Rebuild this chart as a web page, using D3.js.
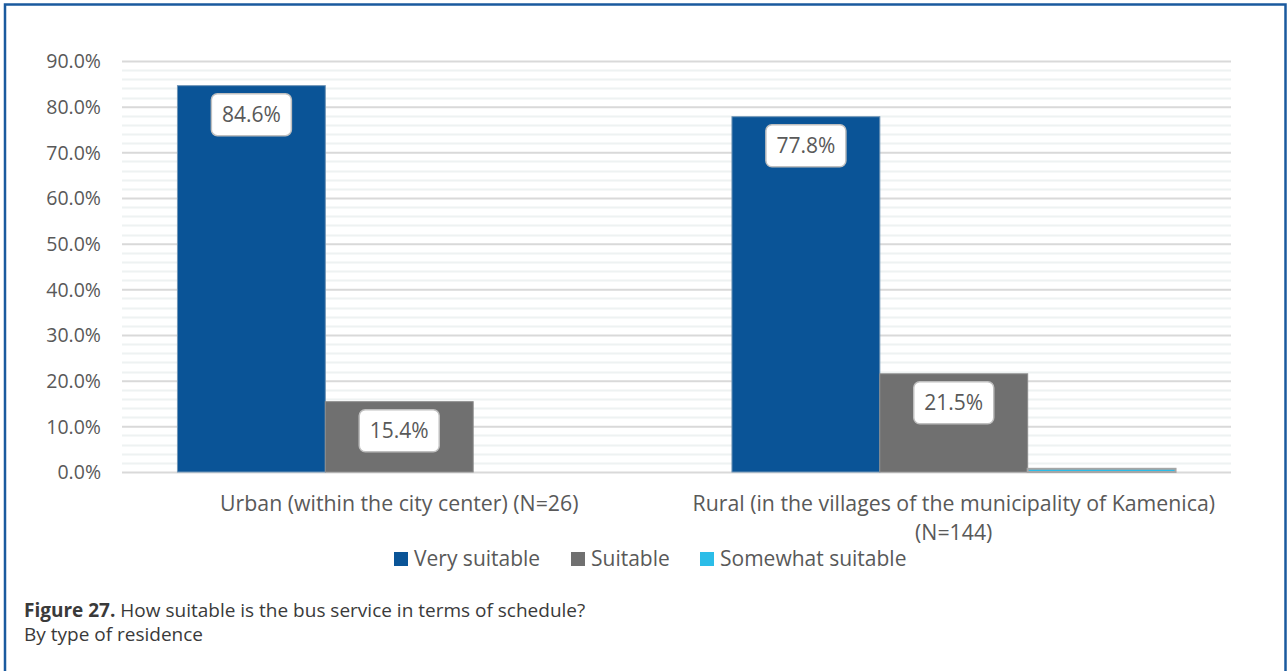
<!DOCTYPE html>
<html>
<head>
<meta charset="utf-8">
<script src="https://cdn.jsdelivr.net/npm/d3@7"></script>
<style>
  html, body { margin: 0; padding: 0; background: #fff; }
  svg { display: block; font-family: "Open Sans", "Noto Sans", sans-serif; }
</style>
</head>
<body>
<svg id="chart" width="1288" height="671"></svg>
<script>
// Share of respondents by residence type and rating of the bus schedule
const categories = [
  ["Urban (within the city center) (N=26)"],
  ["Rural (in the villages of the municipality of Kamenica)", "(N=144)"]
];
const seriesNames = ["Very suitable", "Suitable", "Somewhat suitable"];
const verySuitable = [84.6, 77.8];
const suitable = [15.4, 21.5];
const somewhatSuitable = [null, 0.7];
const yTicks = [0, 10, 20, 30, 40, 50, 60, 70, 80, 90];
const captionBold = "Figure 27.";
const captionText = " How suitable is the bus service in terms of schedule?";
const captionLine2 = "By type of residence";

const seriesValues = [verySuitable, suitable, somewhatSuitable];
const fills = ["#0a5497", "#707070", "#2bbde8"];
const strokes = ["#6f94b5", "#8c8c8c", "#a6a6a6"];
const strokeWidths = [1, 1, 2];
const showLabel = [true, true, false];
const textColor = "#595959";

const svg = d3.select("#chart");

// outer frame
svg.append("rect")
  .attr("x", 5).attr("y", 4.5).attr("width", 1280.5).attr("height", 680)
  .attr("fill", "none").attr("stroke", "#1a5a9e").attr("stroke-width", 2.5);

const plot = { left: 122, right: 1231, top: 61, bottom: 472 };

const y = d3.scaleLinear().domain([0, 90]).range([plot.bottom, plot.top]);
const x0 = d3.scaleBand()
  .domain(d3.range(categories.length))
  .range([plot.left, plot.right])
  .paddingInner(0).paddingOuter(0);
const groupWidth = x0.bandwidth() * 0.8;
const x1 = d3.scaleBand()
  .domain(d3.range(seriesNames.length))
  .range([0, groupWidth]);

// minor gridlines every 2%
const minor = d3.range(0, 90.01, 2).filter(v => v % 10 !== 0);
svg.append("g").selectAll("line").data(minor).join("line")
  .attr("x1", plot.left).attr("x2", plot.right)
  .attr("y1", d => Math.round(y(d)) + 0.5).attr("y2", d => Math.round(y(d)) + 0.5)
  .attr("stroke", "#eef2f2").attr("stroke-width", 2);

// major gridlines and tick labels
const yAxis = d3.axisLeft(y).tickValues(yTicks)
  .tickSize(-(plot.right - plot.left))
  .tickFormat(d => d.toFixed(1) + "%");
const ga = svg.append("g").attr("transform", `translate(${plot.left},0)`).call(yAxis);
ga.select(".domain").remove();
ga.selectAll(".tick line").attr("stroke", "#d9d9d9").attr("stroke-width", 2);
ga.selectAll(".tick text")
  .attr("x", -21).attr("dy", "0.35em")
  .attr("fill", textColor).style("font-size", "19.5px").style("font-family", "'Open Sans', sans-serif");

// bars
const groups = svg.append("g").selectAll("g").data(categories).join("g")
  .attr("transform", (d, i) => `translate(${x0(i) + (x0.bandwidth() - groupWidth) / 2},0)`);

seriesValues.forEach((vals, s) => {
  groups.each(function (d, i) {
    const v = vals[i];
    if (v == null) return;
    const g = d3.select(this);
    g.append("rect")
      .attr("x", x1(s)).attr("width", x1.bandwidth())
      .attr("y", y(v)).attr("height", y(0) - y(v))
      .attr("fill", fills[s]).attr("stroke", strokes[s]).attr("stroke-width", strokeWidths[s]);
  });
});

// value labels in rounded white boxes
seriesValues.forEach((vals, s) => {
  if (!showLabel[s]) return;
  groups.each(function (d, i) {
    const v = vals[i];
    if (v == null) return;
    const g = d3.select(this);
    const cx = x1(s) + x1.bandwidth() / 2;
    const cy = y(v) + 29;
    g.append("rect")
      .attr("x", cx - 40).attr("y", cy - 21).attr("width", 80).attr("height", 42)
      .attr("rx", 6).attr("ry", 6)
      .attr("fill", "#fff").attr("stroke", "#bfbfbf").attr("stroke-width", 1.5);
    g.append("text")
      .attr("x", cx).attr("y", cy).attr("dy", "0.35em")
      .attr("text-anchor", "middle").attr("fill", textColor)
      .style("font-size", "21px")
      .text(v.toFixed(1) + "%");
  });
});

// category labels
const cat = svg.append("g").selectAll("text").data(categories).join("text")
  .attr("x", (d, i) => x0(i) + x0.bandwidth() / 2)
  .attr("y", 511)
  .attr("text-anchor", "middle").attr("fill", textColor)
  .style("font-size", "21.3px");
cat.selectAll("tspan").data(d => d).join("tspan")
  .attr("x", function () { return d3.select(this.parentNode).attr("x"); })
  .attr("dy", (d, j) => j === 0 ? 0 : 29)
  .text(d => d);

// legend
const legendX = [394, 571, 700];
const leg = svg.append("g").selectAll("g").data(seriesNames).join("g")
  .attr("transform", (d, i) => `translate(${legendX[i]},552)`);
leg.append("rect").attr("width", 14).attr("height", 14).attr("fill", (d, i) => fills[i]);
leg.append("text").attr("x", 20).attr("y", 7).attr("dy", "0.35em")
  .attr("fill", textColor).style("font-size", "21px").text(d => d);

// caption
const cap = svg.append("text").attr("x", 24).attr("y", 617)
  .attr("fill", "#3a3a3a").style("font-size", "19px");
cap.append("tspan").attr("font-weight", "bold").text(captionBold);
cap.append("tspan").text(captionText);
svg.append("text").attr("x", 24).attr("y", 641)
  .attr("fill", "#3a3a3a").style("font-size", "19px").text(captionLine2);
</script>
</body>
</html>
